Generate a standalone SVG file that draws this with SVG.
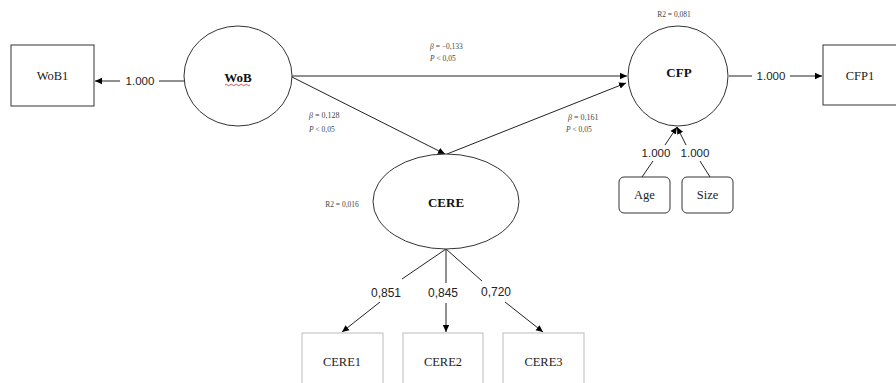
<svg xmlns="http://www.w3.org/2000/svg" width="896" height="383" viewBox="0 0 896 383">
<defs>
<marker id="ah" markerWidth="8" markerHeight="8" refX="7" refY="4" orient="auto" markerUnits="userSpaceOnUse">
<path d="M0,0.8 L7,4 L0,7.2 Z" fill="#000"/>
</marker>
<style>
.box{fill:#fff;stroke:#333;stroke-width:1}
.gbox{fill:#fff;stroke:#bbb;stroke-width:1}
.lat{fill:#fff;stroke:#333;stroke-width:1}
.ln{stroke:#222;stroke-width:1;fill:none}
.nt{font-family:"Liberation Serif",serif;font-size:12.5px;fill:#222;text-anchor:middle}
.bt{font-family:"Liberation Serif",serif;font-size:13px;font-weight:bold;fill:#111;text-anchor:middle}
.lb{font-family:"Liberation Sans",sans-serif;font-size:11.5px;fill:#222;text-anchor:middle}
.ld{font-family:"Liberation Sans",sans-serif;font-size:12px;fill:#222;text-anchor:middle}
.st{font-family:"Liberation Serif",serif;font-size:7.5px;fill:#444}
.sm{font-family:"Liberation Serif",serif;font-size:8px;fill:#444}
</style>
</defs>
<rect width="896" height="383" fill="#fff"/>
<g id="connectors">
<line class="ln" x1="120" y1="81" x2="95" y2="81" marker-end="url(#ah)"/>
<line class="ln" x1="159" y1="81" x2="184" y2="81"/>
<line class="ln" x1="292" y1="76" x2="627" y2="76" marker-end="url(#ah)"/>
<line class="ln" x1="292" y1="77" x2="445" y2="154" marker-end="url(#ah)"/>
<line class="ln" x1="447" y1="154" x2="626" y2="83" marker-end="url(#ah)"/>
<line class="ln" x1="729" y1="76" x2="752" y2="76"/>
<line class="ln" x1="790" y1="76" x2="822" y2="76" marker-end="url(#ah)"/>
<line class="ln" x1="642" y1="177" x2="653" y2="161"/>
<line class="ln" x1="665" y1="145" x2="677" y2="127" marker-end="url(#ah)"/>
<line class="ln" x1="710" y1="177" x2="700" y2="161"/>
<line class="ln" x1="686" y1="145" x2="677" y2="127" marker-end="url(#ah)"/>
<line class="ln" x1="446" y1="249" x2="402" y2="279"/>
<line class="ln" x1="380" y1="302" x2="342" y2="332" marker-end="url(#ah)"/>
<line class="ln" x1="446" y1="249" x2="446" y2="283"/>
<line class="ln" x1="446" y1="303" x2="446" y2="332" marker-end="url(#ah)"/>
<line class="ln" x1="446" y1="249" x2="482" y2="281"/>
<line class="ln" x1="505" y1="302" x2="543" y2="332" marker-end="url(#ah)"/>
<text class="lb" x="140" y="85">1.000</text>
<text class="lb" x="771" y="80">1.000</text>
<text class="lb" x="656" y="157" font-size="10">1.000</text>
<text class="lb" x="695" y="157" font-size="10">1.000</text>
<text class="ld" x="386" y="297">0,851</text>
<text class="ld" x="443" y="297">0,845</text>
<text class="ld" x="496" y="296">0,720</text>
<text class="st" x="430" y="49"><tspan font-style="italic">β</tspan> = −0,133</text>
<text class="st" x="430" y="61"><tspan font-style="italic">P</tspan> &lt; 0,05</text>
<text class="sm" x="309" y="118"><tspan font-style="italic">β</tspan> = 0,128</text>
<text class="st" x="309" y="132"><tspan font-style="italic">P</tspan> &lt; 0,05</text>
<text class="sm" x="568" y="120"><tspan font-style="italic">β</tspan> = 0,161</text>
<text class="st" x="566" y="132"><tspan font-style="italic">P</tspan> &lt; 0,05</text>
</g>
<g id="WoB1"><rect class="box" x="11" y="45" width="83" height="61"/><text class="nt" x="52.5" y="80">WoB1</text></g>
<g id="WoB"><ellipse class="lat" cx="238" cy="76" rx="54" ry="50"/><text class="bt" x="238" y="82">WoB</text><path d="M225,85 q1.25,-1.5 2.5,0 t2.5,0 t2.5,0 t2.5,0 t2.5,0 t2.5,0 t2.5,0 t2.5,0 t2.5,0 t2.5,0" stroke="#d22" stroke-width="0.8" fill="none"/></g>
<g id="CFP"><circle class="lat" cx="678" cy="76" r="50"/><text class="bt" x="679" y="77">CFP</text><text class="st" x="674" y="17" text-anchor="middle">R2 = 0,081</text></g>
<g id="CFP1"><rect class="box" x="823" y="45" width="76" height="60"/><text class="nt" x="860" y="80">CFP1</text></g>
<g id="CERE"><ellipse class="lat" cx="446" cy="201.5" rx="73" ry="47.5"/><text class="bt" x="446" y="207">CERE</text><text class="st" x="342" y="207" text-anchor="middle">R2 = 0,016</text></g>
<g id="Age"><rect class="box" x="619" y="177" width="51" height="36" rx="5"/><text class="nt" x="644.5" y="199" font-size="9.5">Age</text></g>
<g id="Size"><rect class="box" x="682" y="177" width="51" height="36" rx="5"/><text class="nt" x="707.5" y="199" font-size="9.5">Size</text></g>
<g id="CERE1"><rect class="gbox" x="302" y="333" width="81" height="55"/><text class="nt" x="342" y="366">CERE1</text></g>
<g id="CERE2"><rect class="gbox" x="403" y="333" width="80" height="55"/><text class="nt" x="443" y="366">CERE2</text></g>
<g id="CERE3"><rect class="gbox" x="503" y="333" width="81" height="55"/><text class="nt" x="543.5" y="366">CERE3</text></g>
</svg>
